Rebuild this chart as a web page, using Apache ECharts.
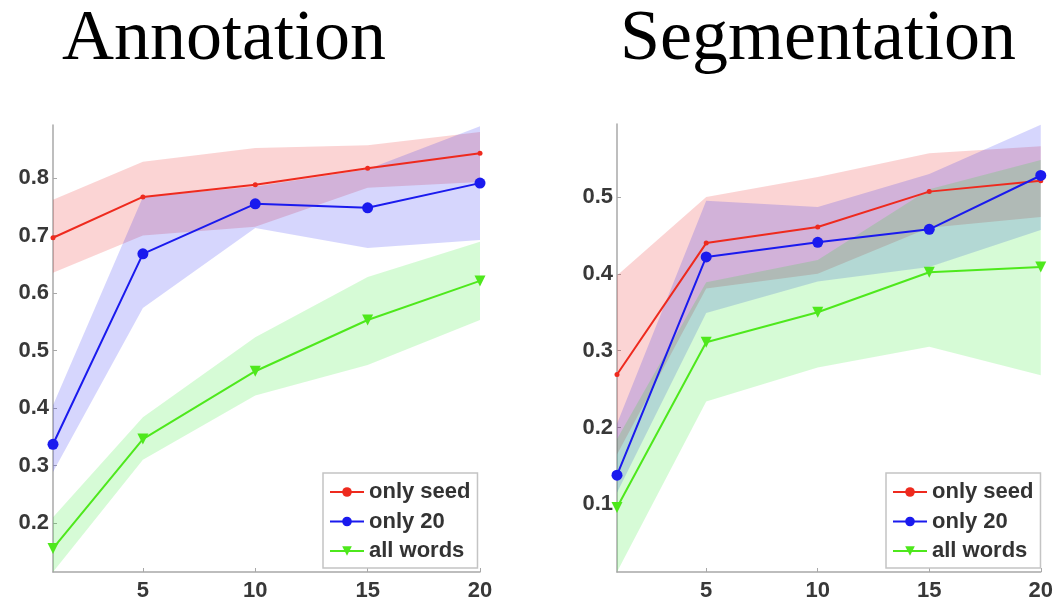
<!DOCTYPE html>
<html>
<head>
<meta charset="utf-8">
<script src="https://cdn.jsdelivr.net/npm/echarts@6/dist/echarts.min.js"></script>
<style>
  html, body { margin: 0; padding: 0; background: #fff; }
  #main { width: 1056px; height: 603px; }
</style>
</head>
<body>
<div id="main"></div>
<script>
const xs = [1, 5, 10, 15, 20];
const names = ['only seed', 'only 20', 'all words'];
const xTicks = [5, 10, 15, 20];
const annTicks = [0.2, 0.3, 0.4, 0.5, 0.6, 0.7, 0.8];
const segTicks = [0.1, 0.2, 0.3, 0.4, 0.5];

// Annotation
const annSeed = [0.696, 0.767, 0.788, 0.817, 0.843];
const annSeedLo = [0.635, 0.700, 0.715, 0.783, 0.793];
const annSeedHi = [0.762, 0.828, 0.852, 0.857, 0.880];
const ann20 = [0.337, 0.668, 0.755, 0.748, 0.791];
const ann20Lo = [0.289, 0.574, 0.713, 0.678, 0.692];
const ann20Hi = [0.405, 0.767, 0.785, 0.815, 0.890];
const annAll = [0.156, 0.346, 0.464, 0.553, 0.621];
const annAllLo = [0.115, 0.310, 0.422, 0.475, 0.553];
const annAllHi = [0.210, 0.384, 0.523, 0.628, 0.689];

// Segmentation
const segSeed = [0.269, 0.440, 0.461, 0.507, 0.521];
const segSeedLo = [0.165, 0.381, 0.400, 0.460, 0.474];
const segSeedHi = [0.398, 0.500, 0.526, 0.557, 0.566];
const seg20 = [0.138, 0.422, 0.441, 0.458, 0.528];
const seg20Lo = [0.115, 0.349, 0.390, 0.409, 0.457];
const seg20Hi = [0.205, 0.495, 0.487, 0.530, 0.594];
const segAll = [0.096, 0.311, 0.350, 0.402, 0.409];
const segAllLo = [0.012, 0.234, 0.278, 0.305, 0.268];
const segAllHi = [0.185, 0.389, 0.418, 0.510, 0.548];

const lineColors = ['#ee2a1e', '#1a1aee', '#4ee81c'];
const bandColors = ['rgba(230,0,0,0.17)', 'rgba(0,0,240,0.16)', 'rgba(0,230,0,0.16)'];

function band(idx, lo, hi, color) {
    return {
        type: 'custom',
        xAxisIndex: idx,
        yAxisIndex: idx,
        silent: true,
        z: 1,
        data: xs.map((x, i) => [x, lo[i], hi[i]]),
        encode: {x: 0, y: [1, 2]},
        renderItem(params, api) {
            if (params.dataIndex !== 0) return;
            const top = xs.map((x, i) => api.coord([x, hi[i]]));
            const bottom = xs.map((x, i) => api.coord([x, lo[i]])).reverse();
            return {
                type: 'polygon',
                shape: {points: top.concat(bottom)},
                style: {fill: color}
            };
        }
    };
}

function line(idx, k, vals) {
    const symbols = [
        {symbol: 'circle', symbolSize: 5},
        {symbol: 'circle', symbolSize: 11},
        {symbol: 'triangle', symbolSize: 11, symbolRotate: 180}
    ];
    return Object.assign({
        type: 'line',
        name: names[k],
        xAxisIndex: idx,
        yAxisIndex: idx,
        z: 3,
        data: xs.map((x, i) => [x, vals[i]]),
        lineStyle: {color: lineColors[k], width: 2},
        itemStyle: {color: lineColors[k]},
        animation: false
    }, symbols[k]);
}

const labelStyle = {fontSize: 22, fontWeight: 'bold', color: '#383838', fontFamily: 'Liberation Sans, Arial, sans-serif'};

function xAxis(idx) {
    return {
        type: 'value', gridIndex: idx, min: 1, max: 20,
        splitLine: {show: false},
        axisLine: {onZero: false, lineStyle: {color: '#a8a8a8', width: 1.5}},
        axisTick: {inside: true, length: 4, customValues: xTicks, lineStyle: {color: '#a8a8a8'}},
        axisLabel: Object.assign({customValues: xTicks, margin: 8}, labelStyle)
    };
}

function yAxis(idx, min, max, ticks) {
    return {
        type: 'value', gridIndex: idx, min: min, max: max,
        splitLine: {show: false},
        axisLine: {show: true, onZero: false, lineStyle: {color: '#a8a8a8', width: 1.5}},
        axisTick: {inside: true, length: 4, customValues: ticks, lineStyle: {color: '#a8a8a8'}},
        axisLabel: Object.assign({customValues: ticks, margin: 4, formatter: v => v.toFixed(1)}, labelStyle)
    };
}

function legend(left) {
    return {
        data: names,
        orient: 'vertical',
        left: left, top: 473,
        padding: [8, 7, 6, 6],
        itemWidth: 34, itemHeight: 12, itemGap: 7.5,
        backgroundColor: '#fff',
        borderColor: '#c4c4c4', borderWidth: 1.5,
        textStyle: {fontSize: 22, lineHeight: 22, fontWeight: 'bold', color: '#333', fontFamily: 'Liberation Sans, Arial, sans-serif'},
        selectedMode: false
    };
}

const titleStyle = {fontFamily: 'Liberation Serif, Times New Roman, serif', fontSize: 72, fontWeight: 'normal', color: '#000'};

const chart = echarts.init(document.getElementById('main'));
chart.setOption({
    animation: false,
    backgroundColor: '#fff',
    title: [
        {text: 'Annotation', left: 62, top: 4, padding: 0, textStyle: titleStyle},
        {text: 'Segmentation', left: 620, top: 4, padding: 0, textStyle: titleStyle}
    ],
    grid: [
        {left: 53, right: 576, top: 125, bottom: 31},
        {left: 617, right: 11, top: 124, bottom: 31}
    ],
    xAxis: [xAxis(0), xAxis(1)],
    yAxis: [yAxis(0, 0.115, 0.892, annTicks), yAxis(1, 0.012, 0.595, segTicks)],
    legend: [legend(323), legend(886)],
    series: [
        band(0, annSeedLo, annSeedHi, bandColors[0]),
        band(0, ann20Lo, ann20Hi, bandColors[1]),
        band(0, annAllLo, annAllHi, bandColors[2]),
        band(1, segSeedLo, segSeedHi, bandColors[0]),
        band(1, seg20Lo, seg20Hi, bandColors[1]),
        band(1, segAllLo, segAllHi, bandColors[2]),
        line(0, 0, annSeed),
        line(0, 1, ann20),
        line(0, 2, annAll),
        line(1, 0, segSeed),
        line(1, 1, seg20),
        line(1, 2, segAll)
    ]
});
</script>
</body>
</html>
